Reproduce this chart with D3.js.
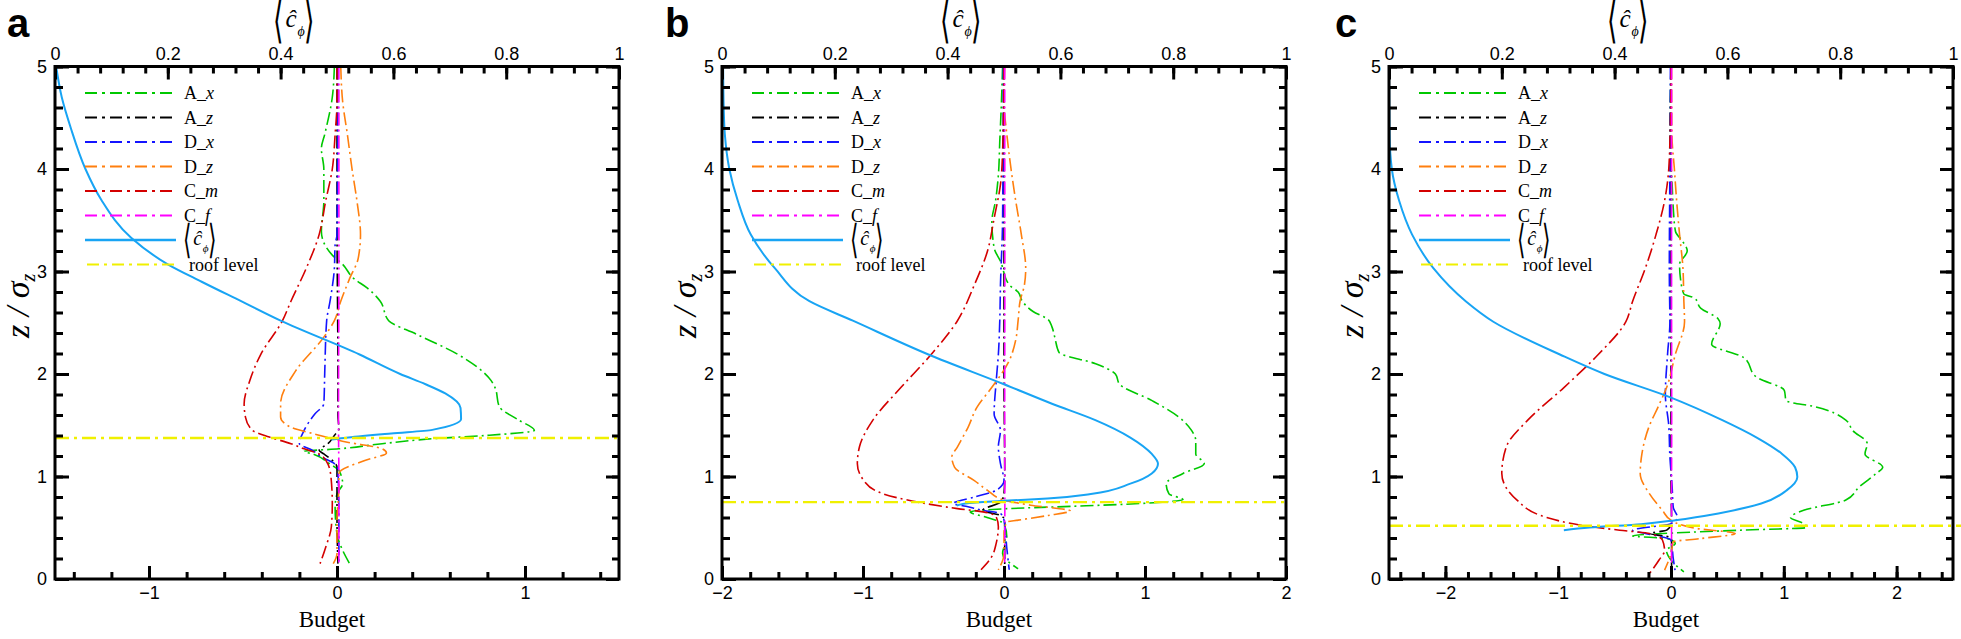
<!DOCTYPE html>
<html>
<head>
<meta charset="utf-8">
<script src="https://cdn.jsdelivr.net/npm/d3@7"></script>
<style>
  body { margin: 0; background: #fff; }
  svg { display: block; }
</style>
</head>
<body>
<div id="wrapper"></div>
<script>
// ---- data: [z/sigma_z, value] pairs ----
// panel a
const a_Ax = [[5,-0.014],[4.7,-0.025],[4.34,-0.065],[4.2,-0.083],[4.0,-0.07],[3.69,-0.07],[3.39,-0.083],[3.16,-0.025],[3.07,0.03],[2.93,0.09],[2.84,0.16],[2.71,0.23],[2.52,0.275],[2.39,0.42],[2.19,0.644],[1.935,0.82],[1.87,0.84],[1.68,0.864],[1.55,0.967],[1.45,1.05],[1.40,0.79],[1.37,0.52],[1.32,0.24],[1.27,0.01],[1.245,-0.175],[1.22,-0.13],[1.12,-0.037],[1.06,0.01],[0.93,0.03],[0.83,0],[0.70,-0.01],[0.44,0],[0.28,0.03],[0.15,0.067]]
const a_Az = [[5,0],[3.5,0],[2.0,0.005],[1.6,0.005],[1.465,0.01],[1.4,-0.014],[1.32,-0.048],[1.255,-0.095],[1.22,-0.07],[1.157,-0.025],[1.09,0],[0.6,0],[0.15,0.005]]
const a_Dx = [[5,0.005],[4.66,0.005],[3.36,0],[3.26,-0.01],[3.03,-0.014],[2.71,-0.037],[2.52,-0.055],[2.03,-0.065],[1.71,-0.07],[1.61,-0.118],[1.45,-0.175],[1.32,-0.2],[1.255,-0.13],[1.19,-0.083],[1.125,-0.014],[1.06,0.005],[0.6,0.01],[0.15,0.01]]
const a_Dz = [[5,0.02],[4.66,0.03],[4.34,0.055],[4.0,0.08],[3.69,0.106],[3.36,0.125],[3.13,0.113],[2.93,0.067],[2.71,0.02],[2.52,-0.014],[2.36,-0.07],[2.03,-0.22],[1.71,-0.30],[1.58,-0.30],[1.48,-0.245],[1.42,-0.13],[1.335,0.055],[1.27,0.24],[1.23,0.263],[1.157,0.148],[1.03,0.01],[0.9,0.01],[0.575,0],[0.25,0],[0.15,-0.02]]
const a_Cm = [[5,0],[4.66,0],[4.34,-0.01],[4.0,-0.025],[3.69,-0.06],[3.36,-0.095],[3.03,-0.164],[2.71,-0.245],[2.52,-0.29],[2.19,-0.406],[1.935,-0.464],[1.71,-0.494],[1.58,-0.487],[1.45,-0.45],[1.385,-0.36],[1.32,-0.245],[1.27,-0.175],[1.22,-0.095],[1.12,-0.048],[0.995,-0.032],[0.735,-0.025],[0.51,-0.03],[0.31,-0.06],[0.15,-0.09]]
const a_Cf = [[5,0.01],[3,0.01],[1.5,0.008],[1,0.01],[0.15,0.01]]
const a_conc = [[5,0.002],[4.7,0.012],[4.4,0.028],[4.0,0.054],[3.7,0.082],[3.33,0.135],[3.07,0.2],[2.9,0.26],[2.71,0.33],[2.52,0.40],[2.19,0.54],[2.0,0.612],[1.9,0.657],[1.81,0.692],[1.67,0.719],[1.56,0.72],[1.455,0.669],[1.42,0.596],[1.38,0.52],[1.36,0.49]]

// panel b
const b_Ax = [[5,-0.01],[4.66,-0.018],[4.27,-0.03],[3.94,-0.04],[3.69,-0.06],[3.49,-0.086],[3.23,-0.07],[3.1,-0.025],[2.87,0.037],[2.8,0.1],[2.71,0.13],[2.61,0.206],[2.53,0.314],[2.46,0.34],[2.36,0.36],[2.21,0.39],[2.1,0.65],[2.0,0.79],[1.9,0.82],[1.74,1.05],[1.58,1.24],[1.45,1.33],[1.35,1.36],[1.22,1.36],[1.125,1.42],[1.03,1.27],[0.93,1.15],[0.83,1.17],[0.775,1.27],[0.736,0.96],[0.71,0.5],[0.687,0.037],[0.655,-0.24],[0.6,-0.12],[0.54,0],[0.41,0.02],[0.25,-0.01],[0.1,0.1]]
const b_Az = [[5,0],[2,0],[1.0,0.005],[0.83,0],[0.75,-0.025],[0.67,-0.15],[0.62,-0.025],[0.574,0.005],[0.1,0.005]]
const b_Dx = [[5,-0.005],[3.5,-0.01],[2.87,-0.025],[2.52,-0.03],[2.19,-0.04],[1.935,-0.055],[1.61,-0.07],[1.45,-0.025],[1.29,-0.04],[1.125,-0.025],[0.96,0],[0.865,-0.055],[0.8,-0.21],[0.736,-0.36],[0.71,-0.27],[0.67,-0.15],[0.64,-0.025],[0.574,0],[0.3,0.02],[0.09,0.037]]
const b_Dz = [[5,0.005],[4.66,0],[4.34,0.02],[4.0,0.05],[3.69,0.083],[3.36,0.123],[3.03,0.154],[2.87,0.145],[2.71,0.114],[2.52,0.1],[2.33,0.083],[2.13,0.037],[1.87,-0.086],[1.68,-0.19],[1.48,-0.255],[1.29,-0.33],[1.19,-0.37],[1.09,-0.35],[0.96,-0.21],[0.865,-0.117],[0.77,0],[0.72,0.19],[0.664,0.47],[0.62,0.314],[0.574,0.1],[0.557,0.02],[0.444,0],[0.25,0],[0.09,-0.04]]
const b_Cm = [[5,0],[4.17,-0.01],[3.85,-0.025],[3.52,-0.07],[3.2,-0.117],[2.87,-0.21],[2.52,-0.33],[2.19,-0.517],[1.87,-0.73],[1.55,-0.93],[1.29,-1.025],[1.125,-1.04],[0.96,-0.994],[0.83,-0.855],[0.75,-0.61],[0.687,-0.33],[0.655,-0.148],[0.606,-0.055],[0.51,-0.04],[0.35,-0.055],[0.22,-0.086],[0.09,-0.163]]
const b_Cf = [[5,0.005],[3,0.006],[1.5,0.005],[0.8,0.006],[0.09,0.005]]
const b_conc = [[5,0.002],[4.6,0.003],[4.34,0.005],[4.0,0.013],[3.69,0.028],[3.36,0.051],[3.03,0.094],[2.71,0.155],[2.52,0.232],[2.19,0.366],[1.9,0.5],[1.71,0.585],[1.55,0.662],[1.38,0.724],[1.22,0.762],[1.125,0.773],[1.03,0.762],[0.93,0.724],[0.83,0.654],[0.785,0.577],[0.765,0.508],[0.742,0.439],[0.716,0.416]]

// panel c
const c_Ax = [[5,0],[4.34,-0.01],[3.85,0.01],[3.62,0.02],[3.39,0.04],[3.29,0.106],[3.2,0.144],[3.07,0.076],[2.94,0.083],[2.78,0.114],[2.74,0.21],[2.64,0.265],[2.54,0.417],[2.49,0.436],[2.29,0.36],[2.16,0.645],[1.97,0.758],[1.84,1.005],[1.74,1.02],[1.68,1.28],[1.55,1.55],[1.45,1.61],[1.32,1.74],[1.22,1.72],[1.09,1.877],[1.03,1.82],[0.9,1.67],[0.77,1.55],[0.67,1.176],[0.6,1.06],[0.54,1.176],[0.502,1.21],[0.476,0.607],[0.45,0.038],[0.42,-0.34],[0.395,-0.038],[0.347,0.038],[0.28,-0.04],[0.185,0],[0.07,0.114]]
const c_Az = [[5,0],[1,0],[0.55,0.005],[0.476,-0.038],[0.444,-0.19],[0.41,-0.02],[0.38,0.005],[0.07,0.005]]
const c_Dx = [[5,-0.005],[4,-0.01],[3,-0.015],[2.5,-0.01],[2.2,-0.03],[1.8,-0.05],[1.5,-0.02],[1.2,-0.01],[0.9,0.01],[0.7,0.02],[0.6,0.057],[0.54,0],[0.476,-0.34],[0.444,-0.228],[0.41,-0.076],[0.38,0],[0.2,0.02],[0.07,0.038]]
const c_Dz = [[5,0.005],[4.34,0.008],[4.0,0.03],[3.69,0.05],[3.36,0.076],[3.03,0.106],[2.71,0.114],[2.51,0.12],[2.19,0.038],[1.87,-0.038],[1.68,-0.114],[1.48,-0.197],[1.22,-0.258],[1.03,-0.273],[0.83,-0.19],[0.67,-0.076],[0.574,0],[0.493,0.228],[0.444,0.569],[0.395,0.265],[0.363,0.02],[0.25,0],[0.087,-0.057]]
const c_Cm = [[5,0],[4.5,-0.005],[4.0,-0.02],[3.69,-0.057],[3.36,-0.133],[3.03,-0.228],[2.71,-0.34],[2.51,-0.4],[2.19,-0.645],[1.87,-0.947],[1.55,-1.27],[1.29,-1.46],[1.03,-1.5],[0.77,-1.365],[0.6,-1.1],[0.525,-0.8],[0.476,-0.455],[0.444,-0.19],[0.38,-0.076],[0.28,-0.057],[0.185,-0.106],[0.055,-0.19]]
const c_Cf = [[5,0.005],[3,0.005],[1.5,0.006],[0.8,0.005],[0.07,0.005]]
const c_conc = [[5,0],[4.34,0.001],[4.0,0.005],[3.69,0.018],[3.36,0.041],[3.03,0.079],[2.71,0.136],[2.51,0.185],[2.19,0.303],[2.0,0.382],[1.77,0.5],[1.55,0.591],[1.38,0.652],[1.22,0.697],[1.09,0.72],[0.995,0.724],[0.865,0.705],[0.736,0.66],[0.64,0.584],[0.574,0.508],[0.535,0.447],[0.502,0.356],[0.476,0.31]]

const seriesNames = ["A_x", "A_z", "D_x", "D_z", "C_m", "C_f"]
const seriesColors = ["#00c800", "#000000", "#1414ff", "#ff7f0e", "#d40000", "#ff00ff"]
const concColor = "#18a4f4"
const roofColor = "#f0f000"
const panelLabels = ["a", "b", "c"]
const budgetLimits = [1.5, 2, 2.5]
const budgetTicks = [[-1, 0, 1], [-2, -1, 0, 1, 2], [-2, -1, 0, 1, 2]]
const concTicks = [0, 0.2, 0.4, 0.6, 0.8, 1]
const zTicks = [0, 1, 2, 3, 4, 5]
const roofLevels = [1.375, 0.75, 0.52]

const panels = [
  { series: [a_Ax, a_Az, a_Dx, a_Dz, a_Cm, a_Cf], conc: a_conc },
  { series: [b_Ax, b_Az, b_Dx, b_Dz, b_Cm, b_Cf], conc: b_conc },
  { series: [c_Ax, c_Az, c_Dx, c_Dz, c_Cm, c_Cf], conc: c_conc },
]

const sans = "Liberation Sans, Arial, sans-serif"
const serif = "Liberation Serif, Times New Roman, serif"

// <c_phi> label: tall angle brackets around an italic c-hat with phi subscript
function concTitle(g, cx, cy, s) {
  const t = g.append("g")
  const bracket = (ch, dx) => t.append("text")
      .attr("transform", `translate(${cx + dx * s},${cy}) scale(${0.9 * s},${1.65 * s})`)
      .attr("text-anchor", "middle")
      .attr("dominant-baseline", "central")
      .attr("font-family", "DejaVu Sans, sans-serif")
      .attr("font-size", 30)
      .attr("font-weight", 200)
      .text(ch)
  bracket("⟨", -16)
  bracket("⟩", 15.5)
  t.append("text")
      .attr("x", cx - 3 * s).attr("y", cy + 7.5 * s)
      .attr("text-anchor", "middle")
      .attr("font-family", serif).attr("font-style", "italic")
      .attr("font-size", 25 * s)
      .text("ĉ")
  t.append("text")
      .attr("x", cx + 7 * s).attr("y", cy + 16 * s)
      .attr("text-anchor", "middle")
      .attr("font-family", serif).attr("font-style", "italic")
      .attr("font-size", 14 * s)
      .text("ϕ")
  return t
}

function drawChart() {
  const width = 1961, height = 639
  const dims = { top: 66.5, plotW: 564, plotH: 512.5, lefts: [55, 722, 1389] }
  const labelDx = [-48, -57, -54]

  const svg = d3.select("#wrapper").append("svg")
      .attr("width", width)
      .attr("height", height)

  svg.append("defs").append("clipPath").attr("id", "plotclip")
    .append("rect").attr("x", -1).attr("y", 0).attr("width", dims.plotW + 12).attr("height", dims.plotH)

  panels.forEach((p, i) => {
    const lim = budgetLimits[i]
    const bounds = svg.append("g")
        .attr("transform", `translate(${dims.lefts[i]},${dims.top})`)

    const xScale = d3.scaleLinear().domain([-lim, lim]).range([0, dims.plotW])
    const cScale = d3.scaleLinear().domain([0, 1]).range([0, dims.plotW])
    const yScale = d3.scaleLinear().domain([0, 5]).range([dims.plotH, 0])

    // data
    const dataG = bounds.append("g").attr("clip-path", "url(#plotclip)")

    const budgetLine = d3.line()
        .x(d => xScale(d[1]))
        .y(d => yScale(d[0]))
        .curve(d3.curveMonotoneY)

    const concLine = d3.line()
        .x(d => cScale(d[1]))
        .y(d => yScale(d[0]))
        .curve(d3.curveMonotoneY)

    p.series.forEach((s, k) => {
      dataG.append("path")
          .attr("d", budgetLine(s))
          .attr("fill", "none")
          .attr("stroke", seriesColors[k])
          .attr("stroke-width", 1.6)
          .attr("stroke-dasharray", "13,4,2,4")
    })

    dataG.append("path")
        .attr("d", concLine(p.conc))
        .attr("fill", "none")
        .attr("stroke", concColor)
        .attr("stroke-width", 2)

    bounds.append("line")
        .attr("x1", 0).attr("x2", dims.plotW + (i === 2 ? 8 : 0))
        .attr("y1", yScale(roofLevels[i])).attr("y2", yScale(roofLevels[i]))
        .attr("stroke", roofColor)
        .attr("stroke-width", 2.4)
        .attr("stroke-dasharray", "14,5,3,5")

    // axes
    const styleAxis = g => {
      g.select(".domain").remove()
      g.selectAll(".tick line").attr("stroke", "#000").attr("stroke-width", 3)
      g.attr("font-family", sans).attr("font-size", 18)
      g.selectAll(".tick text").attr("fill", "#000")
    }

    const minorB = d3.range(Math.ceil(-lim * 5 - 1e-9), Math.floor(lim * 5 + 1e-9) + 1).map(v => v / 5)
    const minorZ = d3.range(0, 26).map(v => v / 5)
    const minorC = d3.range(0, 26).map(v => v * 0.04)

    bounds.append("g").attr("transform", `translate(0,${dims.plotH})`)
        .call(d3.axisBottom(xScale).tickValues(minorB).tickSize(-7).tickFormat(""))
        .call(styleAxis)
    bounds.append("g").attr("transform", `translate(0,${dims.plotH})`)
        .call(d3.axisBottom(xScale).tickValues(budgetTicks[i]).tickSize(-13).tickPadding(7).tickFormat(d3.format("~g")))
        .call(styleAxis)

    bounds.append("g")
        .call(d3.axisTop(cScale).tickValues(minorC).tickSize(-7).tickFormat(""))
        .call(styleAxis)
    bounds.append("g")
        .call(d3.axisTop(cScale).tickValues(concTicks).tickSize(-13).tickPadding(7).tickFormat(d3.format("~g")))
        .call(styleAxis)

    bounds.append("g")
        .call(d3.axisLeft(yScale).tickValues(minorZ).tickSize(-8).tickFormat(""))
        .call(styleAxis)
    bounds.append("g")
        .call(d3.axisLeft(yScale).tickValues(zTicks).tickSize(-14).tickPadding(8).tickFormat(d3.format("d")))
        .call(styleAxis)

    bounds.append("g").attr("transform", `translate(${dims.plotW},0)`)
        .call(d3.axisRight(yScale).tickValues(minorZ).tickSize(-7).tickFormat(""))
        .call(styleAxis)
    bounds.append("g").attr("transform", `translate(${dims.plotW},0)`)
        .call(d3.axisRight(yScale).tickValues(zTicks).tickSize(-13).tickFormat(""))
        .call(styleAxis)

    bounds.append("rect")
        .attr("width", dims.plotW).attr("height", dims.plotH)
        .attr("fill", "none").attr("stroke", "#000").attr("stroke-width", 3)

    // axis titles
    bounds.append("text")
        .attr("x", dims.plotW / 2 - 5)
        .attr("y", dims.plotH + 48)
        .attr("text-anchor", "middle")
        .attr("font-family", serif)
        .attr("font-size", 23)
        .text("Budget")

    concTitle(bounds, dims.plotW / 2 - 43, -47, 1)

    const yTitle = bounds.append("text")
        .attr("transform", `translate(-26,${dims.plotH / 2 - 17}) rotate(-90)`)
        .attr("text-anchor", "middle")
        .attr("font-family", serif)
        .attr("font-size", 34)
        .attr("font-style", "italic")
    yTitle.append("tspan").text("z / σ")
    yTitle.append("tspan").attr("font-size", 20).attr("dy", 6).text("z")

    bounds.append("text")
        .attr("x", labelDx[i])
        .attr("y", -29.5)
        .attr("font-family", sans)
        .attr("font-weight", "bold")
        .attr("font-size", 40)
        .text(panelLabels[i])

    // legend
    const legend = bounds.append("g").attr("font-family", serif).attr("font-size", 18)
    const rowY = k => 26.5 + k * 24.5
    seriesNames.forEach((name, k) => {
      legend.append("line")
          .attr("x1", 30).attr("x2", 121)
          .attr("y1", rowY(k)).attr("y2", rowY(k))
          .attr("stroke", seriesColors[k]).attr("stroke-width", 2.2)
          .attr("stroke-dasharray", "12,5,3,5")
      const [pre, post] = name.split("_")
      const t = legend.append("text").attr("x", 129).attr("y", rowY(k) + 6)
      t.append("tspan").text(pre + "_")
      t.append("tspan").attr("font-style", "italic").text(post)
    })
    legend.append("line")
        .attr("x1", 30).attr("x2", 121)
        .attr("y1", rowY(6)).attr("y2", rowY(6))
        .attr("stroke", concColor).attr("stroke-width", 2.4)
    concTitle(legend, 145, rowY(6) - 1, 0.8)
    legend.append("line")
        .attr("x1", 32).attr("x2", 119)
        .attr("y1", rowY(7)).attr("y2", rowY(7))
        .attr("stroke", roofColor).attr("stroke-width", 2.2)
        .attr("stroke-dasharray", "12,5,3,5")
    legend.append("text").attr("x", 134).attr("y", rowY(7) + 6).text("roof level")
  })
}

drawChart()
</script>
</body>
</html>
